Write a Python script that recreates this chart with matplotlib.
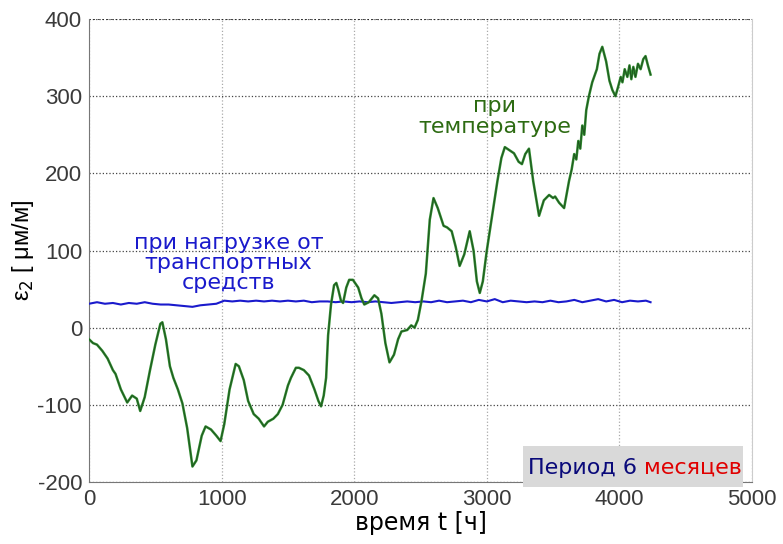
import matplotlib
matplotlib.use("Agg")
import matplotlib.pyplot as plt
from matplotlib.patches import Rectangle

plt.rcParams["axes.unicode_minus"] = False

# ---- data ----
green_t = [0, 30, 60, 100, 140, 180, 200, 240, 288, 325, 360, 386, 420, 460, 500, 538, 553, 580,
           610, 636, 670, 704, 740, 780, 810, 850, 879, 920, 960, 992, 1020, 1060, 1106, 1130,
           1167, 1200, 1242, 1280, 1320, 1348, 1390, 1424, 1460, 1500, 1523, 1560, 1583, 1620,
           1659, 1700, 1730, 1750, 1770, 1788, 1803, 1825, 1848, 1865, 1879, 1900, 1916, 1940,
           1962, 1990, 2030, 2055, 2076, 2110, 2152, 2180, 2205, 2235, 2266, 2300, 2331, 2356,
           2400, 2430, 2455, 2480, 2508, 2540, 2570, 2598, 2630, 2674, 2700, 2735, 2765, 2795,
           2830, 2871, 2900, 2925, 2947, 2970, 3000, 3040, 3080, 3110, 3136, 3170, 3205, 3240,
           3265, 3290, 3318, 3350, 3394, 3430, 3470, 3500, 3515, 3545, 3583, 3620, 3640, 3659,
           3675, 3690, 3705, 3720, 3735, 3750, 3770, 3795, 3830, 3850, 3871, 3900, 3925, 3947,
           3970, 3990, 4010, 4023, 4040, 4060, 4076, 4090, 4105, 4121, 4140, 4160, 4180, 4197,
           4215, 4235]
green_e = [-15, -20, -22, -30, -40, -55, -60, -80, -97, -88, -92, -108, -90, -55, -22, 5, 7, -15,
           -50, -65, -80, -98, -130, -180, -172, -140, -128, -132, -140, -147, -125, -80, -47, -50,
           -68, -95, -112, -118, -128, -122, -118, -112, -100, -75, -65, -52, -52, -55,
           -62, -80, -95, -102, -88, -65, -10, 30, 55, 58, 50, 35, 32, 52,
           62, 62, 52, 38, 30, 33, 42, 38, 18, -20, -45, -35, -15, -5,
           -3, 3, 0, 10, 35, 70, 140, 168, 155, 132, 130, 125, 105, 80,
           95, 125, 100, 60, 45, 60, 100, 145, 190, 220, 234, 230, 226, 215,
           212, 225, 232, 190, 145, 165, 172, 168, 170, 162, 155, 190, 205, 225,
           218, 242, 232, 262, 250, 282, 300, 318, 335, 355, 364, 345, 320, 308,
           300, 312, 325, 318, 335, 325, 340, 322, 338, 325, 342, 335, 348, 352,
           340, 328]

blue_t = [0, 60, 120, 180, 240, 300, 360, 420, 480, 540, 600, 660, 720, 780, 840, 900, 960, 1020,
          1080, 1140, 1200, 1260, 1320, 1380, 1440, 1500, 1560, 1620, 1680, 1740, 1800, 1860,
          1920, 1980, 2040, 2100, 2160, 2220, 2280, 2340, 2400, 2460, 2520, 2580, 2640, 2700,
          2760, 2820, 2880, 2940, 3000, 3060, 3120, 3180, 3240, 3300, 3360, 3420, 3480, 3540,
          3600, 3660, 3720, 3780, 3840, 3900, 3960, 4020, 4080, 4140, 4200, 4235]
blue_e = [31, 33, 31, 32, 30, 32, 31, 33, 31, 30, 30, 29, 28, 27, 29, 30, 31, 35,
          34, 35, 34, 35, 34, 35, 34, 35, 34, 35, 33, 34, 34, 33,
          34, 33, 34, 33, 34, 33, 32, 33, 34, 33, 34, 33, 35, 33,
          34, 35, 33, 36, 34, 37, 33, 35, 34, 33, 34, 33, 35, 33,
          34, 36, 33, 35, 37, 34, 36, 33, 35, 34, 35, 33]

x_ticks = [0, 1000, 2000, 3000, 4000, 5000]
y_ticks = [-200, -100, 0, 100, 200, 300, 400]

fig = plt.figure(figsize=(7.83, 5.44), dpi=100)
ax = fig.add_axes([0.1137, 0.114, 0.8467, 0.851])

ax.plot(blue_t, blue_e, color="#1a1acc", lw=1.5, zorder=3)
ax.plot(green_t, green_e, color="#2e8b2e", lw=1.8, zorder=4)
ax.plot(green_t, green_e, color="#1f4f1f", lw=0.6, zorder=5)

ax.set_xlim(0, 5000)
ax.set_ylim(-200, 400)
ax.set_xticks(x_ticks)
ax.set_yticks(y_ticks)
ax.tick_params(length=0, labelsize=16, labelcolor="#3a3a3a", pad=5)
for lab in ax.get_xticklabels() + ax.get_yticklabels():
    lab.set_family("Liberation Sans")

ax.yaxis.grid(True, linestyle=":", color="#444444", lw=0.9)
ax.xaxis.grid(True, linestyle=":", color="#aaaaaa", lw=0.9)
ax.set_axisbelow(True)
ax.spines["top"].set_visible(False)
ax.spines["right"].set_color("#cccccc")
ax.spines["left"].set_color("#777777")
ax.spines["bottom"].set_color("#777777")
ax.axhline(400, linestyle=":", color="#222222", lw=1.2, zorder=2)

ax.set_xlabel("время t [ч]", fontsize=17, family="DejaVu Sans", labelpad=1)
ax.set_ylabel("ε$_2$ [ μм/м]", fontsize=17, family="Liberation Sans", labelpad=1)

ax.text(1053, 84, "при нагрузке от\nтранспортных\nсредств", color="#1a1acc", fontsize=16,
        ha="center", va="center", linespacing=0.98, family="DejaVu Sans", zorder=6)
ax.text(3061, 274, "при\nтемпературе", color="#2d6b12", fontsize=16,
        ha="center", va="center", linespacing=1.05, family="DejaVu Sans", zorder=6)

# legend-like box
fig.patches.append(Rectangle((523 / 783, 1 - 487 / 544), 220 / 783, 41 / 544,
                             transform=fig.transFigure, facecolor="#d9d9d9",
                             edgecolor="none", zorder=10))
t1 = fig.text(528 / 783, 1 - 468 / 544, "Период 6 ", color="#0a0a7a", fontsize=16,
              va="center", ha="left", family="DejaVu Sans", zorder=11)
fig.canvas.draw()
bb = t1.get_window_extent(renderer=fig.canvas.get_renderer())
x1 = fig.transFigure.inverted().transform((bb.x1, bb.y0))[0]
fig.text(x1, 1 - 468 / 544, "месяцев", color="#e00000", fontsize=16,
         va="center", ha="left", family="DejaVu Sans", zorder=11)

fig.savefig("out.png", dpi=100)
